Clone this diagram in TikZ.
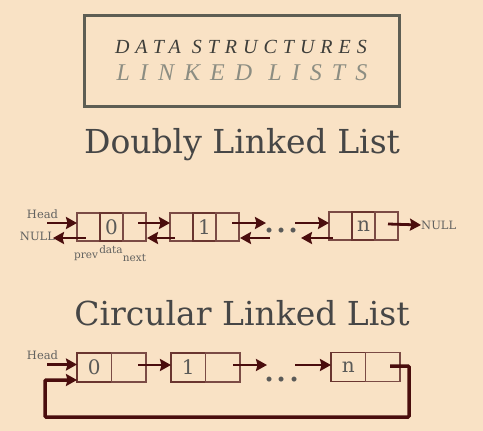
\documentclass[tikz,border=0pt]{standalone}
\usepackage{fontspec}
\setmainfont{DejaVu Serif}
\newfontfamily\itfont[LetterSpace=30]{Liberation Serif Italic}
\newfontfamily\itfontb[LetterSpace=42]{Liberation Serif Italic}
\usetikzlibrary{arrows.meta,calc}
\definecolor{bg}{HTML}{F9E2C5}
\definecolor{framec}{HTML}{5E5E54}
\definecolor{darkt}{HTML}{3E3E3A}
\definecolor{grayt}{HTML}{8C8D82}
\definecolor{titlec}{HTML}{464646}
\definecolor{labc}{HTML}{626260}
\definecolor{arrc}{HTML}{4A0D0D}
\definecolor{boxc}{HTML}{7B4B45}
\definecolor{datac}{HTML}{6A3530}
\definecolor{numc}{HTML}{5A5A58}
\begin{document}
\begin{tikzpicture}[x=1pt,y=-1pt,
  cell/.style={draw=boxc, line width=1.4pt, minimum width=23pt, minimum height=28pt, inner sep=0pt, outer sep=0pt},
  datacell/.style={cell, draw=datac, line width=1.8pt, text=numc, font=\fontsize{20}{20}\selectfont},
  ccell/.style={cell, minimum width=34.5pt, minimum height=29pt},
  cdata/.style={ccell, draw=datac, text=numc, font=\fontsize{20}{20}\selectfont},
  arr/.style={draw=arrc, line width=2.8pt, -{Stealth[length=11pt,width=12pt,inset=1.5pt]}},
  loopline/.style={draw=arrc, line width=3.5pt, -{Stealth[length=11pt,width=12pt,inset=1.5pt]}},
  lab/.style={text=labc, inner sep=0pt, font=\fontsize{11.5}{11.5}\selectfont},
  small/.style={text=labc, inner sep=0pt, font=\fontsize{10.5}{10.5}\selectfont},
  bigtitle/.style={text=titlec, inner sep=0pt, font=\fontsize{33}{33}\selectfont},
  dotsn/.style={text=numc, inner sep=0pt, anchor=base, font=\fontsize{38}{38}\selectfont}
]
\fill[bg] (0,0) rectangle (483,431);
\useasboundingbox (0,0) rectangle (483,431);

% title frame
\draw[framec, line width=3pt] (84,15) rectangle (399,106);
\node[text=darkt, inner sep=0pt, font=\itfont\fontsize{20}{20}\selectfont] (t1) at (241,47) {DATA STRUCTURES};
\node[text=grayt, inner sep=0pt, font=\itfontb\fontsize{24}{24}\selectfont] (t2) at (242,73) {LINKED LISTS};

% titles
\node[bigtitle] (dtitle) at (242,145) {Doubly Linked List};
\node[bigtitle] (ctitle) at (242,313) {Circular Linked List};

% doubly linked list nodes
\node[cell] (d0p) at (88.5,227) {};
\node[datacell] (d0d) at (111.5,227) {0};
\node[cell] (d0n) at (134.5,227) {};
\node[cell] (d1p) at (181.5,227) {};
\node[datacell] (d1d) at (204.5,227) {1};
\node[cell] (d1n) at (227.5,227) {};
\node[cell] (dnp) at (340.5,226) {};
\node[datacell] (dnd) at (363.5,226) {n};
\node[cell] (dnn) at (386.5,226) {};

\node[dotsn] (dd) at (281.5,232.5) {...};

\node[lab] (dhl) at (42.5,214) {Head};
\node[lab] (dnl) at (37.5,236.5) {NULL};
\node[lab, anchor=west] (dnr) at (421,225) {NULL};
\node[small] (lprev) at (86,257) {prev};
\node[small] (ldata) at (111,250) {data};
\node[small] (lnext) at (134.5,258) {next};

\coordinate (hd) at (47,223);
\coordinate (nlt) at (53,238);
\coordinate (ddA) at (266,223);
\coordinate (ddB) at (270,238);
\coordinate (ddC) at (295,223);
\coordinate (ddD) at (301,238);

\draw[arr] (hd) -- (d0p.west |- hd);
\draw[arr] ($(d0p.center)+(-3,11)$) -- (nlt);
\draw[arr] ($(d0n.center)+(3.5,-4)$) -- ($(d1p.west)+(0,-4)$);
\draw[arr] ($(d1p.center)+(-6.5,11)$) -- ($(d0n.east)+(1,11)$);
\draw[arr] ($(d1n.center)+(4.5,-4)$) -- (ddA);
\draw[arr] (ddB) -- ($(d1n.east)+(1,11)$);
\draw[arr] (ddC) -- ($(dnp.west)+(0,-3)$);
\draw[arr] ($(dnp.center)+(-7.5,12)$) -- (ddD);
\draw[arr] ($(dnn.center)+(1.5,-2)$) -- (dnr.west);

% circular linked list nodes
\node[cdata] (c0d) at (94.25,367.5) {0};
\node[ccell] (c0n) at (128.75,367.5) {};
\node[cdata] (c1d) at (188.25,367.5) {1};
\node[ccell] (c1n) at (222.75,367.5) {};
\node[cdata] (cnd) at (348.25,367) {n};
\node[ccell] (cnn) at (382.75,367) {};

\node[dotsn] (cd) at (282,381.5) {...};
\node[lab] (chl) at (42.5,355) {Head};

\coordinate (ch) at (47,364.5);
\coordinate (cdA) at (267,365);
\coordinate (cdB) at (295,365);
\coordinate (loopR) at (409,417);
\coordinate (loopL) at (45,417);

\draw[arr] (ch) -- (c0d.west |- ch);
\draw[arr] ($(c0n.center)+(9.25,-2.5)$) -- ($(c1d.west)+(0,-2.5)$);
\draw[arr] ($(c1n.center)+(10.25,-2.5)$) -- (cdA);
\draw[arr] (cdB) -- ($(cnd.west)+(0,-2)$);
\draw[loopline, rounded corners=1pt] ($(cnn.center)+(7.25,-1)$) -| (loopR) -- (loopL) |- ($(c0d.west)+(0,12.5)$);
\end{tikzpicture}
\end{document}
